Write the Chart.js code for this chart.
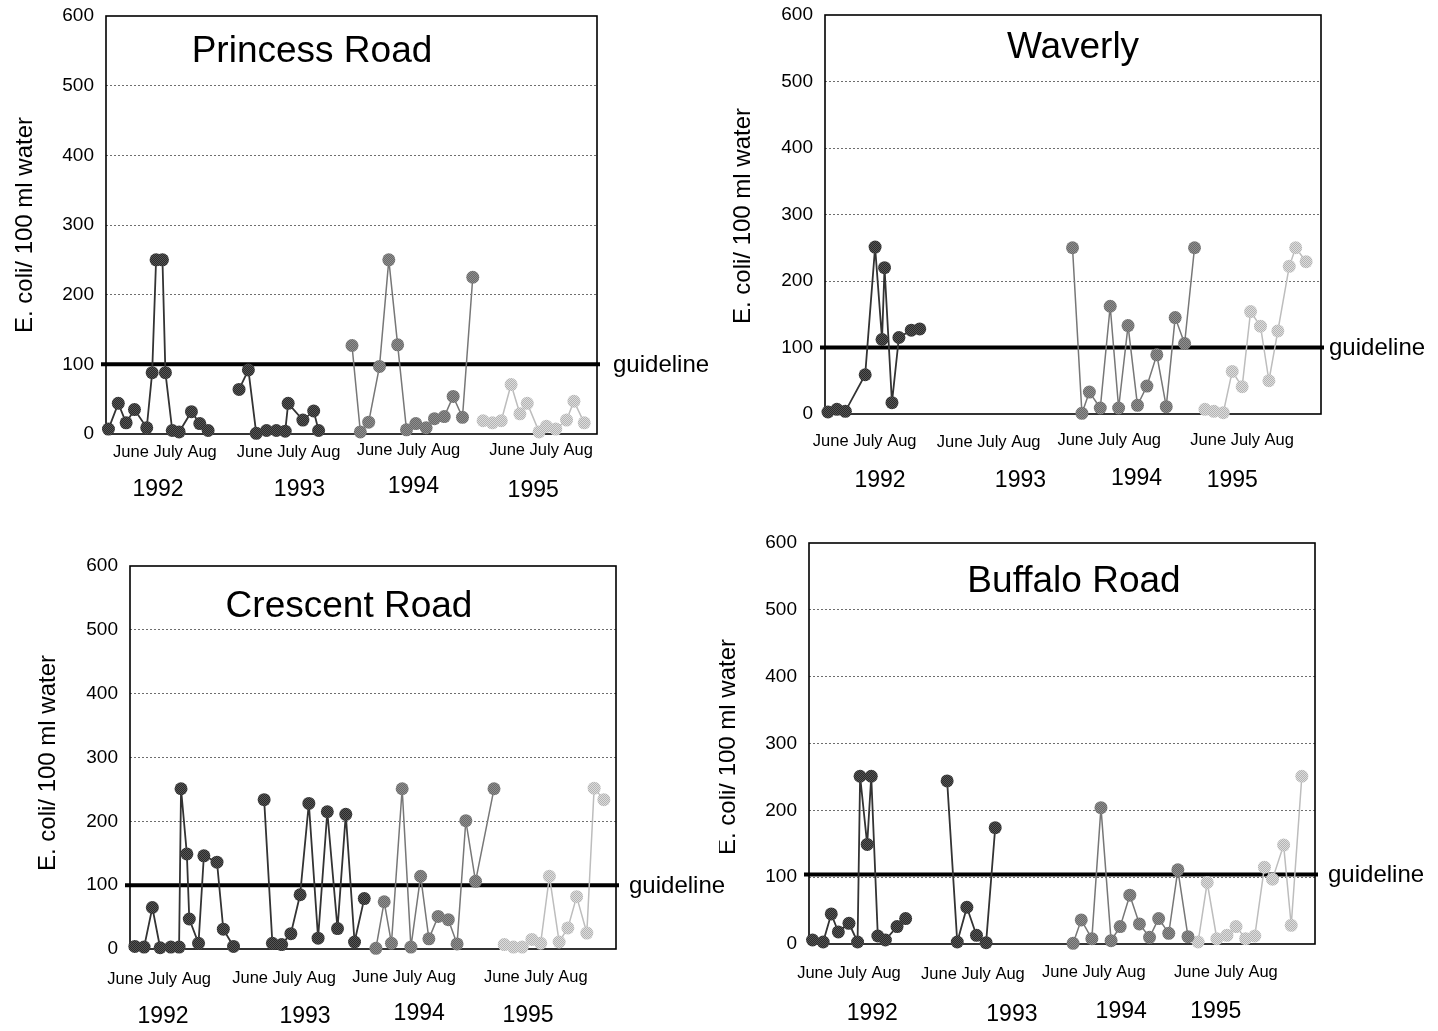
<!DOCTYPE html>
<html>
<head>
<meta charset="utf-8">
<title>E. coli at beach sites, 1992-1995</title>
<script src="https://cdn.jsdelivr.net/npm/chart.js@4.4.1/dist/chart.umd.min.js"></script>
<style>
  html, body { margin: 0; padding: 0; background: #fff; }
  body { position: relative; width: 1438px; height: 1031px; overflow: hidden; }
  canvas { position: absolute; }
</style>
</head>
<body>
<script>
const years = ['1992', '1993', '1994', '1995'];
const monthLabel = 'June July Aug';
const yTicks = [0, 100, 200, 300, 400, 500, 600];
const axisTitle = 'E. coli/ 100 ml water';
const guideText = 'guideline';

// x = position of the sample along the June-Aug seasons (0-100), y = E. coli count
const princessX = [
  [0.5, 2.5, 4.1, 5.8, 8.3, 9.4, 10.2, 11.5, 12.1, 13.5, 14.9, 17.4, 19.1, 20.8],
  [27.1, 29.0, 30.6, 32.7, 34.7, 36.5, 37.1, 40.1, 42.3, 43.3],
  [50.1, 51.8, 53.5, 55.7, 57.6, 59.4, 61.2, 63.1, 65.2, 66.9, 68.9, 70.7, 72.6, 74.7],
  [76.8, 78.7, 80.5, 82.5, 84.3, 85.8, 88.2, 89.7, 91.6, 93.8, 95.3, 97.4]
];
const princessY = [
  [7, 44, 16, 35, 9, 88, 250, 250, 88, 5, 3, 32, 15, 5],
  [64, 92, 1, 5, 5, 4, 44, 20, 33, 5],
  [127, 3, 17, 97, 250, 128, 6, 15, 9, 22, 25, 54, 24, 225],
  [19, 16, 19, 71, 29, 44, 3, 11, 7, 20, 47, 16]
];

const waverlyX = [
  [0.6, 2.4, 4.1, 8.1, 10.1, 11.5, 12.0, 13.5, 14.9, 17.4, 19.1],
  [],
  [49.9, 51.8, 53.3, 55.5, 57.5, 59.2, 61.1, 63.0, 64.9, 66.9, 68.8, 70.6, 72.5, 74.5],
  [76.6, 78.4, 80.3, 82.1, 84.1, 85.8, 87.8, 89.5, 91.3, 93.6, 94.9, 97.0]
];
const waverlyY = [
  [3, 7, 4, 59, 251, 112, 220, 17, 115, 126, 128],
  [],
  [250, 1, 33, 9, 162, 9, 133, 13, 42, 89, 11, 145, 106, 250],
  [7, 4, 2, 64, 41, 154, 132, 50, 125, 222, 250, 229]
];

const crescentX = [
  [1.0, 2.9, 4.6, 6.2, 8.4, 10.1, 10.5, 11.7, 12.2, 14.1, 15.2, 17.9, 19.2, 21.3],
  [27.6, 29.3, 31.2, 33.1, 35.0, 36.8, 38.7, 40.6, 42.7, 44.4, 46.2, 48.2],
  [50.6, 52.3, 53.8, 56.0, 57.8, 59.8, 61.5, 63.4, 65.5, 67.3, 69.1, 71.1, 74.9],
  [77.0, 78.9, 80.7, 82.7, 84.5, 86.3, 88.3, 90.1, 91.9, 94.0, 95.5, 97.5]
];
const crescentY = [
  [4, 3, 65, 2, 3, 3, 251, 149, 47, 9, 146, 136, 31, 4],
  [234, 9, 7, 24, 85, 228, 17, 215, 32, 211, 11, 79],
  [1, 74, 9, 251, 3, 114, 16, 51, 46, 8, 201, 106, 251],
  [7, 3, 3, 15, 9, 114, 11, 33, 82, 25, 252, 234]
];

const buffaloX = [
  [0.7, 2.8, 4.4, 5.8, 7.9, 9.6, 10.1, 11.5, 12.3, 13.6, 15.1, 17.4, 19.1],
  [27.3, 29.3, 31.2, 33.1, 35.0, 36.8],
  [52.2, 53.8, 55.9, 57.7, 59.7, 61.5, 63.4, 65.3, 67.3, 69.1, 71.1, 72.9, 74.9],
  [76.9, 78.7, 80.6, 82.6, 84.4, 86.3, 88.1, 90.0, 91.6, 93.8, 95.3, 97.4]
];
const buffaloY = [
  [6, 3, 45, 18, 31, 3, 251, 149, 251, 12, 6, 26, 38],
  [244, 3, 55, 13, 2, 174],
  [1, 36, 8, 204, 5, 26, 73, 30, 10, 38, 16, 111, 11],
  [3, 92, 8, 13, 26, 8, 12, 115, 97, 148, 28, 251]
];

const guideLevels = [100, 100, 100, 104];

const FONT = '"Liberation Sans", Arial, Helvetica, sans-serif';
const AXIS_W = 50;
Chart.defaults.font.family = FONT;

// page layout of the four panels: canvas box, plot rectangle, label placement
// (top canvases start above the page so the 600 label has room)
const panels = [
  {
    title: 'Princess Road', xs: princessX, ys: princessY, guide: guideLevels[0],
    box: { left: 0, top: -30, width: 719, height: 545 },
    plot: { l: 106, t: 16, r: 597, b: 434 },
    titleAt: [206, 36], axisTitleAt: [25, 225], guideGap: 16,
    monthAt: [[12.0, 18], [37.2, 18], [61.6, 16], [88.6, 16]],
    yearAt: [[10.6, 56], [39.4, 56], [62.6, 53], [87.0, 57]]
  },
  {
    title: 'Waverly', xs: waverlyX, ys: waverlyY, guide: guideLevels[1],
    box: { left: 719, top: -30, width: 719, height: 545 },
    plot: { l: 825, t: 15, r: 1321, b: 414 },
    titleAt: [248, 33], axisTitleAt: [743, 216], guideGap: 8,
    monthAt: [[8.0, 27], [33.0, 28], [57.3, 26], [84.1, 26]],
    yearAt: [[11.1, 67], [39.4, 67], [62.8, 65], [82.1, 67]]
  },
  {
    title: 'Crescent Road', xs: crescentX, ys: crescentY, guide: guideLevels[2],
    box: { left: 0, top: 515, width: 745, height: 516 },
    plot: { l: 130, t: 566, r: 616, b: 949 },
    titleAt: [219, 41], axisTitleAt: [48, 763], guideGap: 13,
    monthAt: [[6.0, 30], [31.7, 29], [56.4, 28], [83.5, 28]],
    yearAt: [[6.8, 68], [36.0, 68], [59.5, 65], [81.9, 67]]
  },
  {
    title: 'Buffalo Road', xs: buffaloX, ys: buffaloY, guide: guideLevels[3],
    box: { left: 719, top: 515, width: 719, height: 516 },
    plot: { l: 809, t: 543, r: 1315, b: 944 },
    titleAt: [265, 39], axisTitleAt: [728, 747], guideGap: 13,
    monthAt: [[7.9, 29], [32.4, 30], [56.3, 28], [82.4, 28]],
    yearAt: [[12.5, 70], [40.1, 71], [61.7, 68], [80.4, 68]]
  }
];

// stippled marker fills
function stipple(base, dot) {
  const c = document.createElement('canvas');
  c.width = 4; c.height = 4;
  const g = c.getContext('2d');
  g.fillStyle = base;
  g.fillRect(0, 0, 4, 4);
  g.fillStyle = dot;
  for (let i = 0; i < 4; i++) {
    for (let j = 0; j < 4; j++) {
      if ((i + j) % 2 === 0) g.fillRect(i, j, 1, 1);
    }
  }
  return g.createPattern(c, 'repeat');
}

const yearStyles = [
  { line: '#333333', width: 1.8, fill: stipple('#2a2a2a', '#555555') },
  { line: '#333333', width: 1.8, fill: stipple('#2a2a2a', '#555555') },
  { line: '#777777', width: 1.5, fill: stipple('#6a6a6a', '#8e8e8e') },
  { line: '#bdbdbd', width: 1.5, fill: stipple('#b4b4b4', '#dcdcdc') }
];

const decorations = {
  id: 'decorations',
  beforeDatasetsDraw(chart, args, opts) {
    const p = opts.panel;
    const a = chart.chartArea;
    const ctx = chart.ctx;
    const gy = chart.scales.y.getPixelForValue(p.guide);
    ctx.save();
    ctx.strokeStyle = '#000';
    ctx.lineWidth = 1.6;
    ctx.strokeRect(a.left, a.top, a.right - a.left, a.bottom - a.top);
    ctx.lineWidth = 4;
    ctx.beginPath();
    ctx.moveTo(a.left - 5, gy);
    ctx.lineTo(a.right + 3, gy);
    ctx.stroke();
    ctx.restore();
  },
  afterDraw(chart, args, opts) {
    const p = opts.panel;
    const a = chart.chartArea;
    const ctx = chart.ctx;
    const xs = chart.scales.x;
    ctx.save();
    ctx.fillStyle = '#000';
    ctx.textAlign = 'center';
    ctx.textBaseline = 'middle';

    ctx.font = '37px ' + FONT;
    ctx.fillText(p.title, a.left + p.titleAt[0], a.top + p.titleAt[1]);

    ctx.font = '16.5px ' + FONT;
    p.monthAt.forEach(m => ctx.fillText(monthLabel, xs.getPixelForValue(m[0]), a.bottom + m[1]));

    ctx.font = '23px ' + FONT;
    p.yearAt.forEach((m, i) => ctx.fillText(years[i], xs.getPixelForValue(m[0]), a.bottom + m[1]));

    ctx.font = '24px ' + FONT;
    ctx.textAlign = 'left';
    ctx.fillText(guideText, a.right + p.guideGap, chart.scales.y.getPixelForValue(p.guide) + 1);

    ctx.textAlign = 'center';
    ctx.font = '24px ' + FONT;
    ctx.translate(p.axisTitleAt[0] - p.box.left, p.axisTitleAt[1] - p.box.top);
    ctx.rotate(-Math.PI / 2);
    ctx.fillText(axisTitle, 0, 0);
    ctx.restore();
  }
};

function makePanel(p) {
  const cv = document.createElement('canvas');
  cv.width = p.box.width;
  cv.height = p.box.height;
  cv.style.left = p.box.left + 'px';
  cv.style.top = p.box.top + 'px';
  document.body.appendChild(cv);

  const datasets = years.map((yr, i) => ({
    label: yr,
    data: p.xs[i].map((x, j) => ({ x: x, y: p.ys[i][j] })),
    borderColor: yearStyles[i].line,
    borderWidth: yearStyles[i].width,
    backgroundColor: yearStyles[i].fill,
    pointBackgroundColor: yearStyles[i].fill,
    pointBorderWidth: 0,
    pointRadius: 6.5,
    tension: 0,
    clip: false
  }));

  return new Chart(cv, {
    type: 'line',
    data: { datasets },
    options: {
      responsive: false,
      animation: false,
      devicePixelRatio: 1,
      layout: {
        autoPadding: false,
        padding: {
          left: p.plot.l - p.box.left - AXIS_W,
          top: p.plot.t - p.box.top,
          right: p.box.left + p.box.width - p.plot.r,
          bottom: p.box.top + p.box.height - p.plot.b
        }
      },
      scales: {
        x: { type: 'linear', min: 0, max: 100, display: false },
        y: {
          min: yTicks[0],
          max: yTicks[yTicks.length - 1],
          afterFit: s => { s.width = AXIS_W; },
          afterBuildTicks: s => { s.ticks = yTicks.map(v => ({ value: v })); },
          ticks: { color: '#000', padding: 12, font: { size: 19 } },
          border: { display: false, dash: [2, 2] },
          grid: {
            drawTicks: false,
            lineWidth: 1,
            color: c => (c.tick && (c.tick.value === 0 || c.tick.value === 600)) ? 'rgba(0,0,0,0)' : '#6e6e6e'
          }
        }
      },
      plugins: {
        legend: { display: false },
        tooltip: { enabled: false },
        decorations: { panel: p }
      }
    },
    plugins: [decorations]
  });
}

panels.forEach(makePanel);
</script>
</body>
</html>
